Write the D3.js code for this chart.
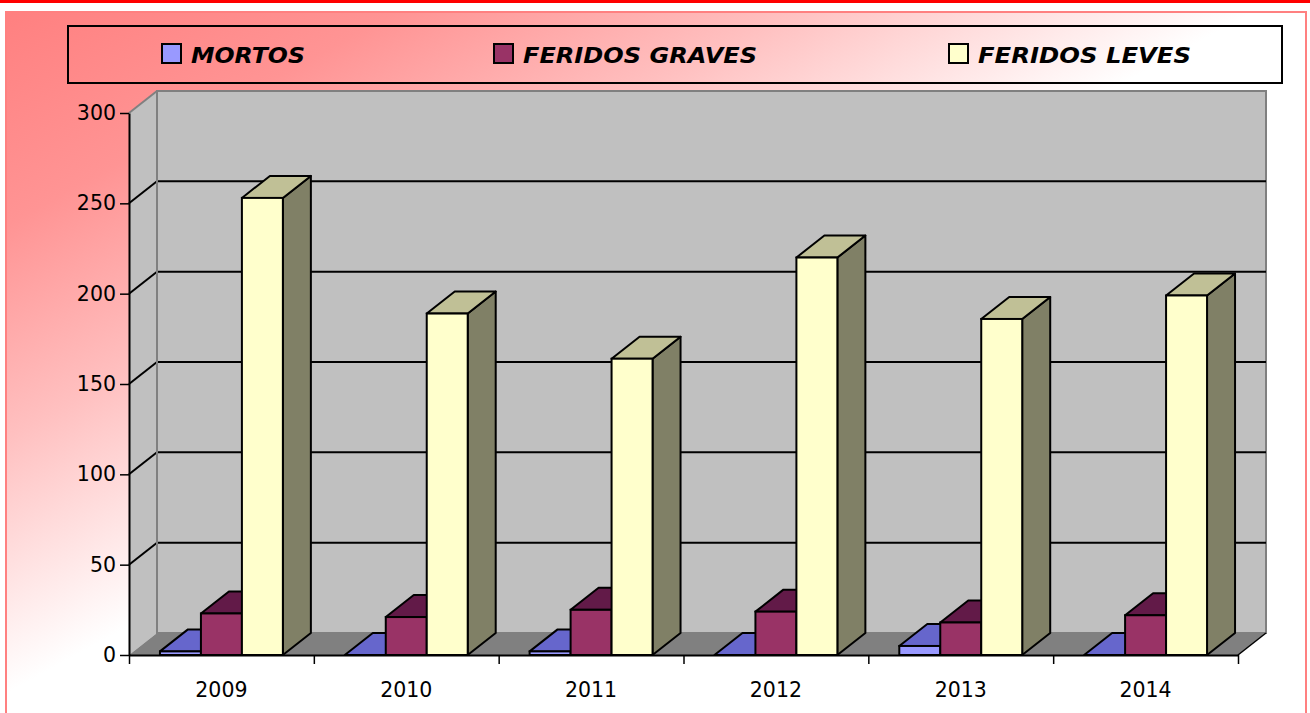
<!DOCTYPE html>
<html>
<head>
<meta charset="utf-8">
<script src="https://cdn.jsdelivr.net/npm/d3@7"></script>
<style>
  body { margin: 0; background: #fff; }
  svg { display: block; }
</style>
</head>
<body>
<svg id="chart" width="1310" height="713"></svg>
<script>
const years = ['2009', '2010', '2011', '2012', '2013', '2014'];
const seriesNames = ['MORTOS', 'FERIDOS GRAVES', 'FERIDOS LEVES'];
const mortos = [2, 0, 2, 0, 5, 0];
const feridosGraves = [23, 21, 25, 24, 18, 22];
const feridosLeves = [253, 189, 164, 220, 186, 199];
const yTicks = [0, 50, 100, 150, 200, 250, 300];

const frontColors = ['#9999FF', '#993366', '#FFFFCC'];
const topColors = ['#6666CC', '#621A48', '#C0C096'];
const sideColors = ['#4D4D99', '#4D1A33', '#808066'];

const width = 1310,
  height = 713;
const plot = { left: 129, right: 1238, top: 113, bottom: 655 };
const depth = { dx: 28, dy: 22 };

const svg = d3.select('#chart');
const font = "'Comic Sans MS', 'DejaVu Sans', sans-serif";

// background
const defs = svg.append('defs');
const grad = defs
  .append('linearGradient')
  .attr('id', 'bg')
  .attr('x1', 0)
  .attr('y1', 0)
  .attr('x2', 1)
  .attr('y2', 1);
grad.append('stop').attr('offset', 0).attr('stop-color', '#FF8080');
grad.append('stop').attr('offset', 0.15).attr('stop-color', '#FF9494');
grad.append('stop').attr('offset', 0.3).attr('stop-color', '#FFC0C0');
grad.append('stop').attr('offset', 0.48).attr('stop-color', '#FFFFFF');
grad.append('stop').attr('offset', 1).attr('stop-color', '#FFFFFF');

svg.append('rect').attr('x', 0).attr('y', 0).attr('width', width).attr('height', 3).attr('fill', '#FF0000');

svg
  .append('rect')
  .attr('x', 6)
  .attr('y', 12)
  .attr('width', 1300)
  .attr('height', 710)
  .attr('fill', 'url(#bg)')
  .attr('stroke', '#FF8080')
  .attr('stroke-width', 2);

// scales
const x = d3
  .scaleBand()
  .domain(years)
  .range([plot.left, plot.right])
  .paddingInner(0.335)
  .paddingOuter(0.1675);

const xSeries = d3.scaleBand().domain(seriesNames).range([0, x.bandwidth()]);

const y = d3.scaleLinear().domain([0, 300]).range([plot.bottom, plot.top]);

const xEdges = d3.scaleLinear().domain([0, years.length]).range([plot.left, plot.right]);

// walls
const walls = svg.append('g');
const { dx, dy } = depth;

walls
  .append('path')
  .attr(
    'd',
    `M${plot.left},${y(0)} L${plot.left},${y(300)} L${plot.left + dx},${y(300) - dy} L${plot.left + dx},${y(0) - dy} Z`
  )
  .attr('fill', '#C0C0C0');

walls
  .append('rect')
  .attr('x', plot.left + dx)
  .attr('y', y(300) - dy)
  .attr('width', plot.right - plot.left)
  .attr('height', y(0) - y(300))
  .attr('fill', '#C0C0C0')
  .attr('stroke', '#808080')
  .attr('stroke-width', 2);

walls
  .append('path')
  .attr('d', `M${plot.left},${y(300)} L${plot.left + dx},${y(300) - dy}`)
  .attr('stroke', '#808080')
  .attr('stroke-width', 2);

// floor
walls
  .append('path')
  .attr(
    'd',
    `M${plot.left},${y(0)} L${plot.left + dx},${y(0) - dy} L${plot.right + dx},${y(0) - dy} L${plot.right},${y(0)} Z`
  )
  .attr('fill', '#808080');

walls
  .append('path')
  .attr('d', `M${plot.right},${y(0)} L${plot.right + dx},${y(0) - dy}`)
  .attr('stroke', '#000')
  .attr('stroke-width', 1.5);

// gridlines
const grid = yTicks.filter(d => d > 0 && d < 300);

walls
  .selectAll('.gridBack')
  .data(grid)
  .join('line')
  .attr('class', 'gridBack')
  .attr('x1', plot.left + dx)
  .attr('x2', plot.right + dx)
  .attr('y1', d => y(d) - dy)
  .attr('y2', d => y(d) - dy)
  .attr('stroke', '#000')
  .attr('stroke-width', 2);

walls
  .selectAll('.gridSide')
  .data(grid)
  .join('line')
  .attr('class', 'gridSide')
  .attr('x1', plot.left)
  .attr('x2', plot.left + dx)
  .attr('y1', d => y(d))
  .attr('y2', d => y(d) - dy)
  .attr('stroke', '#000')
  .attr('stroke-width', 2);

walls
  .append('line')
  .attr('x1', plot.left + dx)
  .attr('x2', plot.left + dx)
  .attr('y1', y(300) - dy)
  .attr('y2', y(0) - dy)
  .attr('stroke', '#808080')
  .attr('stroke-width', 2);

// bars
const data = years.map((year, i) => ({
  year,
  values: [mortos[i], feridosGraves[i], feridosLeves[i]]
}));

const bw = xSeries.bandwidth();

data.forEach(d => {
  const g = svg.append('g');
  d.values.forEach((v, s) => {
    const bx = x(d.year) + xSeries(seriesNames[s]);
    const yt = y(v),
      yb = y(0);
    g.append('path')
      .attr('d', `M${bx + bw},${yt} L${bx + bw + dx},${yt - dy} L${bx + bw + dx},${yb - dy} L${bx + bw},${yb} Z`)
      .attr('fill', sideColors[s])
      .attr('stroke', '#000')
      .attr('stroke-width', 2)
      .attr('stroke-linejoin', 'round');
    g.append('path')
      .attr('d', `M${bx},${yt} L${bx + dx},${yt - dy} L${bx + bw + dx},${yt - dy} L${bx + bw},${yt} Z`)
      .attr('fill', topColors[s])
      .attr('stroke', '#000')
      .attr('stroke-width', 2)
      .attr('stroke-linejoin', 'round');
    g.append('rect')
      .attr('x', bx)
      .attr('y', yt)
      .attr('width', bw)
      .attr('height', yb - yt)
      .attr('fill', frontColors[s])
      .attr('stroke', '#000')
      .attr('stroke-width', 2);
  });
});

// axes
svg
  .append('g')
  .attr('transform', `translate(${plot.left},0)`)
  .call(d3.axisLeft(y).tickValues(yTicks).tickSize(9).tickSizeOuter(0).tickPadding(4))
  .call(g => g.select('.domain').attr('stroke-width', 2))
  .call(g => g.selectAll('.tick line').attr('stroke-width', 1.5))
  .call(g => g.selectAll('text').attr('font-size', 20.5).attr('font-family', font).attr('fill', '#000'));

svg
  .append('g')
  .attr('transform', `translate(0,${plot.bottom})`)
  .call(d3.axisBottom(xEdges).ticks(years.length).tickSize(9).tickSizeOuter(0).tickFormat(''))
  .call(g => g.select('.domain').attr('stroke-width', 2))
  .call(g => g.selectAll('.tick line').attr('stroke-width', 1.5));

svg
  .selectAll('.xLabel')
  .data(years)
  .join('text')
  .attr('class', 'xLabel')
  .attr('x', d => xEdges(years.indexOf(d) + 0.5))
  .attr('y', 697)
  .attr('text-anchor', 'middle')
  .attr('font-size', 20.5)
  .attr('font-family', font)
  .text(d => d);

// legend
svg
  .append('rect')
  .attr('x', 68)
  .attr('y', 26)
  .attr('width', 1214)
  .attr('height', 57)
  .attr('fill', 'none')
  .attr('stroke', '#000')
  .attr('stroke-width', 2);

const legendX = [162, 494, 949];
const legendW = [114, 234, 213];

const legend = svg
  .selectAll('.legendItem')
  .data(seriesNames)
  .join('g')
  .attr('class', 'legendItem')
  .attr('transform', (d, i) => `translate(${legendX[i]},44)`);

legend
  .append('rect')
  .attr('width', 19)
  .attr('height', 19)
  .attr('fill', (d, i) => frontColors[i])
  .attr('stroke', '#000')
  .attr('stroke-width', 2);

legend
  .append('text')
  .attr('x', 29)
  .attr('y', 19)
  .attr('font-size', 22)
  .attr('font-weight', 'bold')
  .attr('font-style', 'italic')
  .attr('font-family', font)
  .attr('textLength', (d, i) => legendW[i])
  .attr('lengthAdjust', 'spacingAndGlyphs')
  .text(d => d);
</script>
</body>
</html>
